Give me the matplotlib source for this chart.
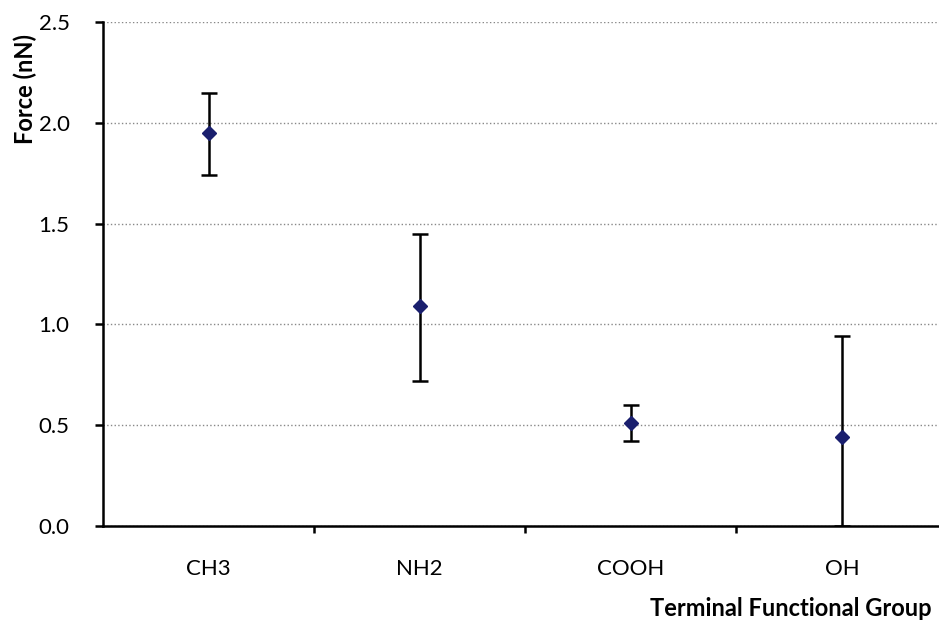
import numpy as np
import matplotlib
matplotlib.use("Agg")
import matplotlib.pyplot as plt

# данные с графика
groups = ["CH3", "NH2", "COOH", "OH"]
force = [1.95, 1.09, 0.51, 0.44]
err_low = [0.21, 0.37, 0.09, 0.44]
err_high = [0.20, 0.36, 0.09, 0.50]

plt.rcParams['font.family'] = ['Lato', 'DejaVu Sans']

fig = plt.figure(figsize=(9.39, 6.26), dpi=100)
ax = fig.add_axes([103 / 939, 1 - 526 / 626, 836 / 939, 504 / 626])

x = np.arange(len(groups))
ax.errorbar(x, force, yerr=[err_low, err_high], fmt='D', color='#1a1f6e',
            markersize=7, ecolor='black', elinewidth=1.8, capsize=6, capthick=1.8,
            zorder=3)

ax.set_xlim(-0.5, 3.46)
ax.set_ylim(0, 2.5)
ax.set_yticks([0, 0.5, 1.0, 1.5, 2.0, 2.5])
ax.set_yticklabels(["0.0", "0.5", "1.0", "1.5", "2.0", "2.5"], fontsize=16)
ax.set_xticks(x)
ax.set_xticklabels(groups, fontsize=16)
ax.tick_params(axis='x', which='major', length=0, pad=24)
ax.set_xticks([0.5, 1.5, 2.5], minor=True)
ax.tick_params(axis='x', which='minor', length=5, width=1.8, direction='out')
ax.tick_params(axis='y', length=6, width=1.8, direction='out', pad=18)

ax.grid(axis='y', linestyle=':', color='#888888', linewidth=1)
ax.set_axisbelow(True)
for s in ['top', 'right']:
    ax.spines[s].set_visible(False)
for s in ['left', 'bottom']:
    ax.spines[s].set_linewidth(1.8)

fig.text(25 / 939, 1 - 89 / 626, "Force (nN)", rotation=90, ha='center', va='center',
         fontsize=17, fontweight='bold')
fig.text(932 / 939, 1 - 609 / 626, "Terminal Functional Group", ha='right', va='center',
         fontsize=17, fontweight='bold')

fig.savefig("out.png", dpi=100)
